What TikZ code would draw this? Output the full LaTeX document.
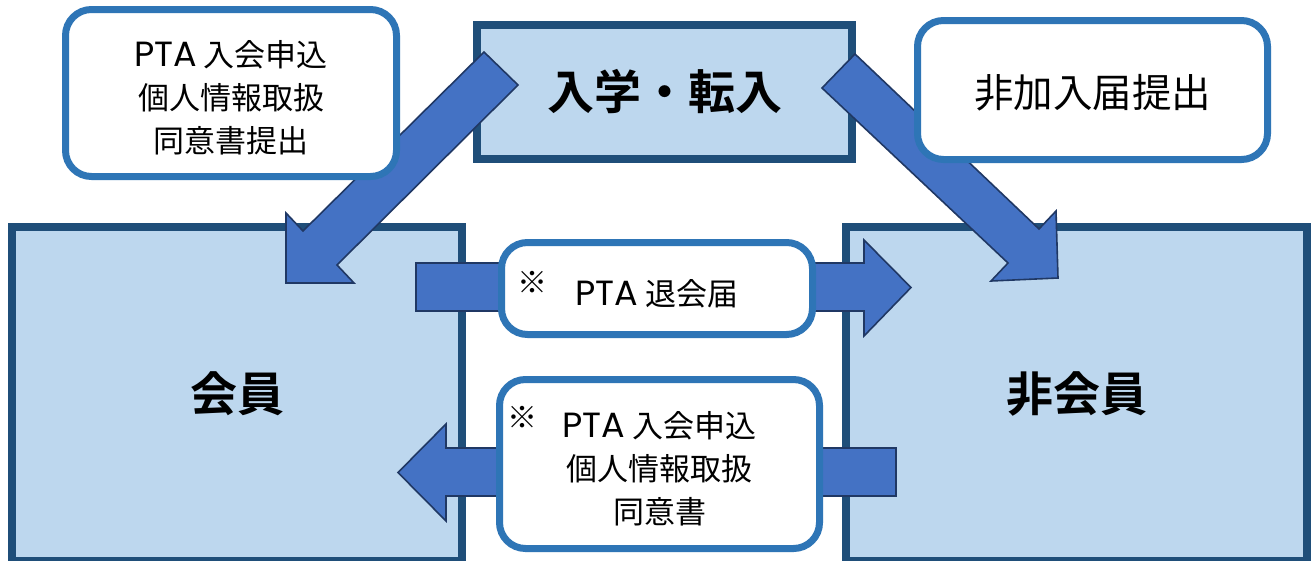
\documentclass[tikz,border=0pt]{standalone}
\usepackage{fontspec}
\setmainfont{Noto Sans CJK JP}[BoldFont={Noto Sans CJK JP Bold}]
\newfontfamily\latinfont{Poppins}
\newcommand\ptaword{{\latinfont\fontsize{35}{43}\selectfont PTA}}
\definecolor{boxfill}{HTML}{BDD7EE}
\definecolor{boxline}{HTML}{1F4E79}
\definecolor{arrfill}{HTML}{4472C4}
\definecolor{arrline}{HTML}{203864}
\definecolor{rline}{HTML}{2E75B6}
\begin{document}
\begin{tikzpicture}[x=1pt,y=-1pt,
  bigbox/.style={draw=boxline, fill=boxfill, line width=8pt, inner sep=0pt,
    font=\fontsize{47}{47}\selectfont\bfseries},
  rbox/.style={draw=rline, fill=white, line width=7pt, rounded corners=26pt,
    inner sep=0pt},
  rtext/.style={align=center, inner sep=0pt, yshift=-5pt},
  blockarrow/.style={fill=arrfill, draw=arrline, line width=1.6pt, line join=miter},
  refmark/.style={inner sep=0pt, font=\fontsize{30}{30}\selectfont}
]
\clip (0,0) rectangle (1311,560);
\fill[white] (0,0) rectangle (1311,560);

% main boxes
\node[bigbox, minimum width=450, minimum height=334] (member) at (237,394) {会員};
\node[bigbox, minimum width=461, minimum height=334] (nonmember) at (1076.5,394) {非会員};
\node[bigbox, minimum width=375, minimum height=134] (entry) at (664.5,92) {入学・転入};

% block arrows
\draw[blockarrow] (484,52) -- (303,231) -- (286,213) -- (286,283) -- (354,283)
  -- (337,265) -- (518,85) -- cycle;
\draw[blockarrow] (855,54) -- (1039,229) -- (1056,211) -- (1058,278) -- (991,281)
  -- (1008,263) -- (822,88) -- cycle;
\draw[blockarrow] (416,263) -- (864,263) -- (864,240) -- (911,287.5) -- (864,336)
  -- (864,311) -- (416,311) -- cycle;
\draw[blockarrow] (896,448) -- (446,448) -- (446,424) -- (398,472.5) -- (446,521)
  -- (446,496) -- (896,496) -- cycle;

% rounded label boxes
\node[rbox, minimum width=331, minimum height=167,
  label={[rtext, font=\fontsize{31}{43}\selectfont]center:{\ptaword\ 入会申込\\個人情報取扱\\同意書提出}}]
  (join) at (231,93) {};
\node[rbox, minimum width=350, minimum height=139,
  label={[rtext, yshift=2pt, font=\fontsize{39.5}{40}\selectfont]center:{非加入届提出}}]
  (decline) at (1092.5,90) {};
\node[rbox, minimum width=311, minimum height=92,
  label={[rtext, font=\fontsize{31}{43}\selectfont]center:{\ptaword\ 退会届}}]
  (withdraw) at (657,288.5) {};
\node[rbox, minimum width=320, minimum height=169,
  label={[rtext, font=\fontsize{31}{43}\selectfont]center:{\ptaword\ 入会申込\\個人情報取扱\\同意書}}]
  (rejoin) at (659.5,464) {};
\node[refmark] (m1) at (532,282) {※};
\node[refmark] (m2) at (522,417) {※};
\end{tikzpicture}
\end{document}
